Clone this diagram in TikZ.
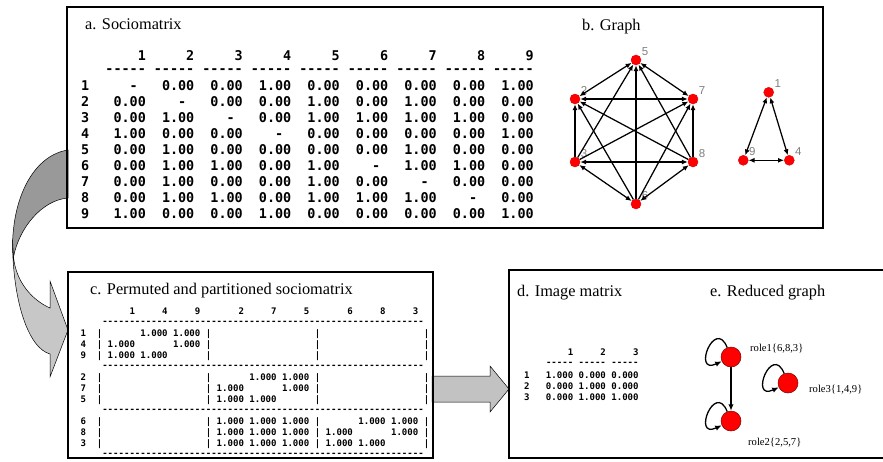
\documentclass[tikz,border=0pt]{standalone}
\usepackage{fontspec}
\setmainfont{Liberation Serif}
\newfontfamily\matfont{DejaVu Sans Mono}
\newfontfamily\lblfont{Liberation Sans}
\usetikzlibrary{arrows.meta}
% n character cells of blank space in the current monospaced font
\newcommand\sk[1]{\kern#1\fontcharwd\font`0\relax}
\newcommand\diagmark{\sk{2}-}
\begin{document}
\begin{tikzpicture}[x=1pt, y=-1pt,
  panel/.style={draw, line width=2.4pt},
  ttl/.style={font=\rmfamily\fontsize{16.3}{18}\selectfont, anchor=base west, inner sep=0pt},
  amono/.style={font=\matfont\bfseries\fontsize{13.42}{16}\selectfont, anchor=base west, inner sep=0pt},
  cmono/.style={font=\matfont\bfseries\fontsize{9.05}{11}\selectfont, anchor=base west, inner sep=0pt},
  gnode/.style={circle, fill=red, draw=red!85!black, line width=0.4pt, minimum size=10pt, inner sep=0pt},
  glbl/.style={font=\lblfont\fontsize{11.5}{12}\selectfont, text=black!50, inner sep=0pt},
  gedge/.style={line width=1.25pt, -{Latex[length=6pt,width=5pt]}},
  bedge/.style={line width=1.25pt, {Latex[length=6pt,width=5pt]}-{Latex[length=6pt,width=5pt]}},
  rnode/.style={circle, fill=red, draw=red!50!black, line width=0.5pt, minimum size=20pt, inner sep=0pt},
  redge/.style={line width=1.3pt, -{Latex[length=6.5pt,width=5.5pt]}},
  rlbl/.style={font=\rmfamily\fontsize{10.6}{12}\selectfont, anchor=base west, inner sep=0pt},
  blockarrow/.style={draw=black, line width=0.5pt}
]
\useasboundingbox (0,0) rectangle (883,461);
\fill[white] (0,0) rectangle (883,461);

% ---- curved block arrow from the sociomatrix to the permuted matrix
\draw[blockarrow, fill=black!40]
  (68,150) .. controls (35,155) and (12.5,195) .. (12.5,248)
  -- (13.5,257) .. controls (19,228) and (42,200) .. (68,198) -- cycle;
\draw[blockarrow, fill=black!22]
  (12.5,240) .. controls (12.5,300) and (28,348) .. (50,354)
  -- (50,377) -- (68,330) -- (50,281) -- (50,308)
  .. controls (32,300) and (16,282) .. (13.5,257) -- cycle;

% ---- straight block arrow to the image matrix
\draw[blockarrow, fill=black!24]
  (432,376) -- (490,376) -- (490,366) -- (509,389) -- (490,412) -- (490,402) -- (432,402) -- cycle;

% ---- panel frames
\draw[panel] (67,7) rectangle (823,228);
\draw[panel] (68,272) rectangle (433,458);
\draw[panel] (509,270) rectangle (900,458);

% ---- titles
\node[ttl] (ta) at (85,29) {a. Sociomatrix};
\node[ttl] (tb) at (582,30) {b. Graph};
\node[ttl] (tc) at (90,294) {c. Permuted and partitioned sociomatrix};
\node[ttl] (td) at (517,296) {d. Image matrix};
\node[ttl] (te) at (710,296) {e. Reduced graph};

% ---- a. sociomatrix
\node[amono] (ahead) at (81,60) {\sk{7}1\sk{5}2\sk{5}3\sk{5}4\sk{5}5\sk{5}6\sk{5}7\sk{5}8\sk{5}9};
\node[amono] (adash) at (81,73.7) {\sk{3}-----\sk{1}-----\sk{1}-----\sk{1}-----\sk{1}-----\sk{1}-----\sk{1}-----\sk{1}-----\sk{1}-----};
\foreach \lab/\vals [count=\i from 0] in {
  1/{\diagmark,0.00,0.00,1.00,0.00,0.00,0.00,0.00,1.00},
  2/{0.00,\diagmark,0.00,0.00,1.00,0.00,1.00,0.00,0.00},
  3/{0.00,1.00,\diagmark,0.00,1.00,1.00,1.00,1.00,0.00},
  4/{1.00,0.00,0.00,\diagmark,0.00,0.00,0.00,0.00,1.00},
  5/{0.00,1.00,0.00,0.00,0.00,0.00,1.00,0.00,0.00},
  6/{0.00,1.00,1.00,0.00,1.00,\diagmark,1.00,1.00,0.00},
  7/{0.00,1.00,0.00,0.00,1.00,0.00,\diagmark,0.00,0.00},
  8/{0.00,1.00,1.00,0.00,1.00,1.00,1.00,\diagmark,0.00},
  9/{1.00,0.00,0.00,1.00,0.00,0.00,0.00,0.00,1.00}}
{
  \node[amono] (arow\lab) at (81,{90.2+16.02*\i}) {\lab};
  \foreach \v [count=\j from 0] in \vals
    \node[amono] (a\lab-\j) at ({81+8.08*(4+6*\j)},{90.2+16.02*\i}) {\v};
}

% ---- b. graph
\node[gnode] (n5) at (636,60) {};
\node[gnode] (n2) at (575,99) {};
\node[gnode] (n7) at (693,99) {};
\node[gnode] (n3) at (575,162) {};
\node[gnode] (n8) at (693,162) {};
\node[gnode] (n6) at (636,204) {};
\node[gnode] (n1) at (768.7,92.3) {};
\node[gnode] (n9) at (743.3,160.3) {};
\node[gnode] (n4) at (789.3,160.3) {};
\foreach \k in {1,...,9}
  \node[glbl] (g\k) at ([shift={(9,-8.5)}]n\k) {\k};
\foreach \a/\b in {n2/n5, n2/n7, n3/n6, n3/n8, n5/n7, n6/n8, n1/n4, n1/n9, n4/n9}
  \draw[bedge] (\a) -- (\b);
\foreach \a/\b in {n3/n2, n6/n2, n8/n2, n3/n5, n6/n5, n8/n5, n3/n7, n6/n7, n8/n7}
  \draw[gedge] (\a) -- (\b);

% ---- c. permuted and partitioned sociomatrix
\node[cmono] (chead) at (80.3,314.3) {\sk{9}1\sk{5}4\sk{5}9\sk{7}2\sk{5}7\sk{5}5\sk{7}6\sk{5}8\sk{5}3};
\foreach \k/\yy in {0/324.7, 1/368.7, 2/412.7, 3/456.7}
  \node[cmono] (csep\k) at (80.3,\yy) {\sk{4}-----------------------------------------------------------};
\node[cmono] (crow1) at (80.3,336.3) {1\sk{2}|\sk{7}1.000\sk{1}1.000\sk{1}|\sk{19}|\sk{19}|};
\node[cmono] (crow4) at (80.3,347.3) {4\sk{2}|\sk{1}1.000\sk{7}1.000\sk{1}|\sk{19}|\sk{19}|};
\node[cmono] (crow9) at (80.3,358.3) {9\sk{2}|\sk{1}1.000\sk{1}1.000\sk{7}|\sk{19}|\sk{19}|};
\node[cmono] (crow2) at (80.3,380.3) {2\sk{2}|\sk{19}|\sk{7}1.000\sk{1}1.000\sk{1}|\sk{19}|};
\node[cmono] (crow7) at (80.3,391.3) {7\sk{2}|\sk{19}|\sk{1}1.000\sk{7}1.000\sk{1}|\sk{19}|};
\node[cmono] (crow5) at (80.3,402.3) {5\sk{2}|\sk{19}|\sk{1}1.000\sk{1}1.000\sk{7}|\sk{19}|};
\node[cmono] (crow6) at (80.3,424.3) {6\sk{2}|\sk{19}|\sk{1}1.000\sk{1}1.000\sk{1}1.000\sk{1}|\sk{7}1.000\sk{1}1.000\sk{1}|};
\node[cmono] (crow8) at (80.3,435.3) {8\sk{2}|\sk{19}|\sk{1}1.000\sk{1}1.000\sk{1}1.000\sk{1}|\sk{1}1.000\sk{7}1.000\sk{1}|};
\node[cmono] (crow3) at (80.3,446.3) {3\sk{2}|\sk{19}|\sk{1}1.000\sk{1}1.000\sk{1}1.000\sk{1}|\sk{1}1.000\sk{1}1.000\sk{7}|};

% ---- d. image matrix
\node[cmono] (dhead) at (524,355.3) {\sk{8}1\sk{5}2\sk{5}3};
\node[cmono] (ddash) at (524,365.7) {\sk{4}-----\sk{1}-----\sk{1}-----};
\node[cmono] (drow1) at (524,378.3) {1\sk{3}1.000\sk{1}0.000\sk{1}0.000};
\node[cmono] (drow2) at (524,389.3) {2\sk{3}0.000\sk{1}1.000\sk{1}0.000};
\node[cmono] (drow3) at (524,400.3) {3\sk{3}0.000\sk{1}1.000\sk{1}1.000};

% ---- e. reduced graph
\node[rnode] (r1) at (731,357) {};
\node[rnode] (r2) at (731,421) {};
\node[rnode] (r3) at (788,383) {};
\draw[redge] (r1) -- (r2);
\foreach \r in {r1,r2,r3}
  \draw[redge] (\r.112) .. controls +(-112:33) and +(-205:33) .. (\r.205);
\node[rlbl] (l1) at (750,351.5) {role1\{6,8,3\}};
\node[rlbl] (l3) at (809,392.5) {role3\{1,4,9\}};
\node[rlbl] (l2) at (748,445) {role2\{2,5,7\}};
\end{tikzpicture}
\end{document}
